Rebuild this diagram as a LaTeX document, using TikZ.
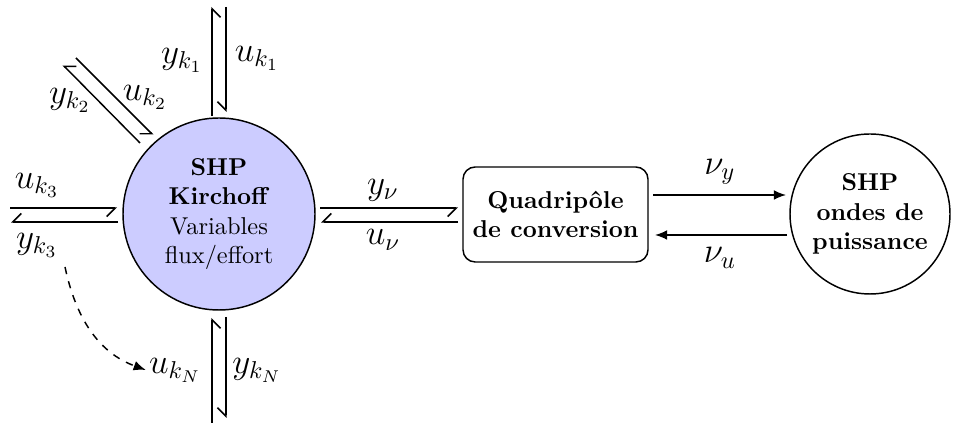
\documentclass[tikz,border=0pt]{standalone}
\usetikzlibrary{arrows.meta,calc}
\begin{document}
\begin{tikzpicture}[x=0.41pt,y=-0.41pt,line width=0.6pt,
  harp/.style={-{Straight Barb[harpoon,swap,length=3.5pt,width=7pt]}},
  full/.style={-{Latex[length=5pt,width=4pt]}},
  lab/.style={font=\Large,inner sep=1pt}]
\useasboundingbox (0,0) rectangle (975,423);
% main nodes
\node[circle,draw,fill=blue!20,minimum size={192*0.41pt},inner sep=0pt,align=center] (K) at (219,214)
  {\textbf{SHP}\\\textbf{Kirchoff}\\Variables\\flux/effort};
\node[draw,rounded corners=5pt,minimum width={185*0.41pt},minimum height={95*0.41pt},align=center,font=\bfseries] (Q) at (555.5,214.5)
  {Quadripôle\\de conversion};
\node[circle,draw,minimum size={160*0.41pt},inner sep=0pt,align=center,font=\bfseries] (R) at (870,214)
  {SHP\\ondes de\\puissance};
% endpoints
\coordinate (t1a) at (212,116); \coordinate (t1b) at (212,7);
\coordinate (t2a) at (226,7);   \coordinate (t2b) at (226,112);
\coordinate (d1a) at (140,143); \coordinate (d1b) at (63,65);
\coordinate (d2a) at (76,58);   \coordinate (d2b) at (153,135);
\coordinate (l1a) at (10,208);  \coordinate (l1b) at (117,208);
\coordinate (l2a) at (118,222); \coordinate (l2b) at (11,222);
\coordinate (m1a) at (320,208); \coordinate (m1b) at (458,208);
\coordinate (m2a) at (458,222); \coordinate (m2b) at (321,222);
\coordinate (n1a) at (653,195); \coordinate (n1b) at (786,195);
\coordinate (n2a) at (787,235); \coordinate (n2b) at (655,235);
\coordinate (b1a) at (212,423); \coordinate (b1b) at (212,318);
\coordinate (b2a) at (226,317); \coordinate (b2b) at (226,418);
\coordinate (dA) at (65,267);
% harpoon pairs
\draw[harp] (t1a) -- (t1b);
\draw[harp] (t2a) -- (t2b);
\draw[harp] (d1a) -- (d1b);
\draw[harp] (d2a) -- (d2b);
\draw[harp] (l1a) -- (l1b);
\draw[harp] (l2a) -- (l2b);
\draw[harp] (m1a) -- (m1b);
\draw[harp] (m2a) -- (m2b);
\draw[harp] (b1a) -- (b1b);
\draw[harp] (b2a) -- (b2b);
\draw[full] (n1a) -- (n1b);
\draw[full] (n2a) -- (n2b);
% labels
\node[lab] (yk1) at (182,60) {$y_{k_1}$};
\node[lab] (uk1) at (257,58) {$u_{k_1}$};
\node[lab] (yk2) at (70,100) {$y_{k_2}$};
\node[lab] (uk2) at (145,97) {$u_{k_2}$};
\node[lab] (uk3) at (37,185) {$u_{k_3}$};
\node[lab] (yk3) at (37,245) {$y_{k_3}$};
\node[lab] (ynu) at (383,190) {$y_{\nu}$};
\node[lab] (unu) at (383,240) {$u_{\nu}$};
\node[lab] (nuy) at (720,172) {$\nu_{y}$};
\node[lab] (nuu) at (720,258) {$\nu_{u}$};
\node[lab] (ukN) at (175,370) {$u_{k_N}$};
\node[lab] (ykN) at (257,370) {$y_{k_N}$};
% dashed link
\draw[dashed,full] (dA) to[out=-78,in=160] (ukN.west);
\end{tikzpicture}
\end{document}
